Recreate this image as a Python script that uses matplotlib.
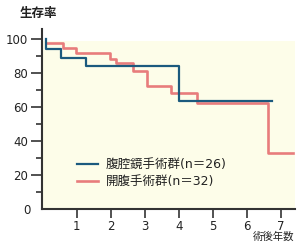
import matplotlib
matplotlib.use("Agg")
import matplotlib.pyplot as plt
from matplotlib.patches import Rectangle
from matplotlib.lines import Line2D

plt.rcParams['font.family'] = ['DejaVu Sans', 'Noto Sans CJK JP']

# Data
lap_label = "腹腔鏡手術群(n＝26)"
lap_t = [0.08, 0.08, 0.54, 1.28, 4.00, 6.73]
lap_s = [100, 94.5, 89.3, 84.5, 63.5, 63.5]

open_label = "開腹手術群(n＝32)"
open_t = [0.08, 0.58, 0.97, 1.98, 2.15, 2.66, 3.05, 3.77, 4.52, 6.63, 7.35]
open_s = [98, 95.1, 92.2, 88.7, 86.4, 81.4, 72.8, 68.4, 62.8, 33.3, 33.3]

x_ticks = [1, 2, 3, 4, 5, 6, 7]
y_ticks = [0, 20, 40, 60, 80, 100]
y_minor = [10, 30, 50, 70, 90]

y_title = "生存率"
x_title = "術後年数"

blue = "#1b5a7e"
red = "#e87c7c"
axcol = "#333333"
txtcol = "#222222"

W, H = 300, 250
fig = plt.figure(figsize=(3, 2.5), dpi=100)
ax = fig.add_axes([41.5 / W, 1 - 209.3 / H, (295 - 41.5) / W, (209.3 - 29.3) / H])
xmin, xmax = -0.04, 7.41
ax.set_xlim(xmin, xmax)
ax.set_ylim(0, 106)

ax.add_patch(Rectangle((xmin, 0), xmax - xmin, 99.2, facecolor="#fdfde9",
                       edgecolor="none", zorder=0))

ax.plot(open_t, open_s, drawstyle="steps-post", color=red, lw=1.9, zorder=2)
ax.plot(lap_t, lap_s, drawstyle="steps-post", color=blue, lw=1.6, zorder=3)

for s in ["top", "right"]:
    ax.spines[s].set_visible(False)
for s in ["left", "bottom"]:
    ax.spines[s].set_color(axcol)
    ax.spines[s].set_linewidth(1.5)

ax.set_xticks(x_ticks)
ax.set_xticklabels([str(v) for v in x_ticks])
ax.set_yticks(y_ticks)
ax.set_yticklabels([str(v) for v in y_ticks])
ax.set_yticks(y_minor, minor=True)
ax.tick_params(axis="y", which="major", length=8, width=1.2, color=axcol,
               pad=1.8, labelsize=8.5, labelcolor=txtcol)
ax.tick_params(axis="y", which="minor", length=4.3, width=1.2, color=axcol)
ax.tick_params(axis="x", which="major", length=6.5, width=1.2, color=axcol,
               pad=1.2, labelsize=8.5, labelcolor=txtcol)
t0 = ax.yaxis.get_major_ticks()[0]
t0.tick1line.set_visible(False)
t0.set_pad(-0.5)

fig.text(38 / W, 1 - 14 / H, y_title, ha="center", va="center",
         fontsize=9, fontweight="bold", color=txtcol)
fig.text(294 / W, 1 - 237 / H, x_title, ha="right", va="center",
         fontsize=7.5, color=txtcol)

# Legend
for yy, col, lab, lw in [(164, blue, lap_label, 1.6), (181.3, red, open_label, 1.9)]:
    fig.add_artist(Line2D([76.7 / W, 98.3 / W], [1 - yy / H, 1 - yy / H],
                          color=col, lw=lw, transform=fig.transFigure))
    fig.text(106 / W, 1 - yy / H, lab, ha="left", va="center",
             fontsize=9, color=txtcol)

fig.savefig("out.png", dpi=100)
